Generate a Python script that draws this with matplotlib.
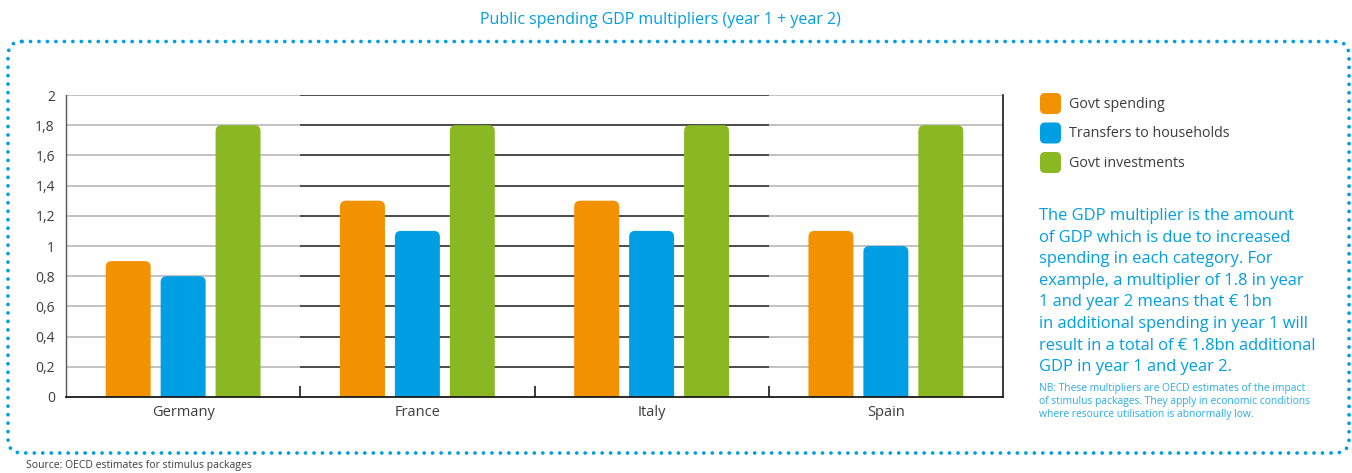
import matplotlib
matplotlib.use("Agg")
import matplotlib.pyplot as plt
from matplotlib.patches import FancyBboxPatch

countries = ["Germany", "France", "Italy", "Spain"]
series_names = ["Govt spending", "Transfers to households", "Govt investments"]
govt_spending = [0.9, 1.3, 1.3, 1.1]
transfers = [0.8, 1.1, 1.1, 1.0]
investments = [1.8, 1.8, 1.8, 1.8]
y_ticks = [0, 0.2, 0.4, 0.6, 0.8, 1.0, 1.2, 1.4, 1.6, 1.8, 2.0]
y_tick_labels = ["0", "0,2", "0,4", "0,6", "0,8", "1", "1,2", "1,4", "1,6", "1,8", "2"]

orange = "#f39200"
blue = "#009fe3"
green = "#8ab822"
text_grey = "#3c3c3c"
colors = [orange, blue, green]

note_lines = [
    "The GDP multiplier is the amount",
    "of GDP which is due to increased",
    "spending in each category. For",
    "example, a multiplier of 1.8 in year",
    "1 and year 2 means that \u20ac 1bn",
    "in additional spending in year 1 will",
    "result in a total of \u20ac 1.8bn additional",
    "GDP in year 1 and year 2.",
]
nb_lines = [
    "NB: These multipliers are OECD estimates of the impact",
    "of stimulus packages. They apply in economic conditions",
    "where resource utilisation is abnormally low.",
]

plt.rcParams["font.family"] = ["Open Sans", "DejaVu Sans"]

W, H = 1352, 473
fig = plt.figure(figsize=(W / 100, H / 100), dpi=100)

# pixel-space layer for the frame, legend and notes
deco = fig.add_axes([0, 0, 1, 1], zorder=0)
deco.set_xlim(0, W)
deco.set_ylim(H, 0)
deco.axis("off")

frame = FancyBboxPatch(
    (8, 41.5), 1341, 411.5,
    boxstyle="round,pad=0,rounding_size=14",
    facecolor="none", edgecolor=blue, linewidth=2.7,
    linestyle=(0, (0.01, 2.25)), capstyle="round", clip_on=False,
)
deco.add_patch(frame)

deco.text(660, 20, "Public spending GDP multipliers (year 1 + year 2)",
          color=blue, fontsize=11.5, ha="center", va="center")
deco.text(26, 465, "Source: OECD estimates for stimulus packages",
          color=text_grey, fontsize=7.5, ha="left", va="center")

# legend
for i, (name, c) in enumerate(zip(series_names, colors)):
    y = 93 + i * 29.5
    deco.add_patch(FancyBboxPatch(
        (1040, y), 21, 21, boxstyle="round,pad=0,rounding_size=5",
        facecolor=c, edgecolor="none"))
    deco.text(1069, y + 11, name, color=text_grey, fontsize=10.3,
              ha="left", va="center")

for i, line in enumerate(note_lines):
    deco.text(1039, 216 + i * 21.6, line, color=blue, fontsize=11.9,
              ha="left", va="center", fontweight="medium")
for i, line in enumerate(nb_lines):
    deco.text(1039, 388 + i * 13.3, line, color=blue, fontsize=7.4,
              ha="left", va="center", alpha=0.85)

# main chart
ax = fig.add_axes([66 / W, 1 - 397 / H, (1003 - 66) / W, (397 - 95) / H], zorder=1)
ax.set_facecolor("none")
ax.set_xlim(-0.5, 3.5)
ax.set_ylim(0, 2)

# gridlines: grey in outer groups, black in the middle two
for i in range(len(countries)):
    gc = "#bdbdbd" if i in (0, 3) else "#1a1a1a"
    ax.hlines(y_ticks[1:], i - 0.5, i + 0.5, colors=gc,
              linewidth=1.3 if i in (0, 3) else 1.1, zorder=1)

bar_w = 0.192
step = 0.2345
px_per_x = (1003 - 66) / 4
px_per_y = (397 - 95) / 2
aspect = px_per_x / px_per_y
radius = 6 / px_per_x
for j, vals in enumerate([govt_spending, transfers, investments]):
    for i, v in enumerate(vals):
        x0 = i + (j - 1) * step - bar_w / 2
        ax.add_patch(FancyBboxPatch(
            (x0, -0.1), bar_w, v + 0.1,
            boxstyle=f"round,pad=0,rounding_size={radius}",
            mutation_aspect=aspect,
            facecolor=colors[j], edgecolor="none", zorder=2))

ax.set_yticks(y_ticks)
ax.set_yticklabels(y_tick_labels)
ax.set_xticks(range(len(countries)))
ax.set_xticklabels(countries)
ax.set_xticks([0.5, 1.5, 2.5], minor=True)
ax.tick_params(axis="x", which="major", length=0, pad=6,
               labelsize=10.5, labelcolor=text_grey)
ax.tick_params(axis="x", which="minor", direction="in", length=8,
               width=1.2, color="#1a1a1a")
ax.tick_params(axis="y", length=0, pad=8, labelsize=10, labelcolor=text_grey)

ax.spines["top"].set_visible(False)
ax.spines["left"].set_color("#555555")
ax.spines["left"].set_linewidth(1.0)
ax.spines["right"].set_color("#1a1a1a")
ax.spines["right"].set_linewidth(1.2)
ax.spines["bottom"].set_color("#1a1a1a")
ax.spines["bottom"].set_linewidth(1.3)

fig.savefig("out.png", dpi=100)
